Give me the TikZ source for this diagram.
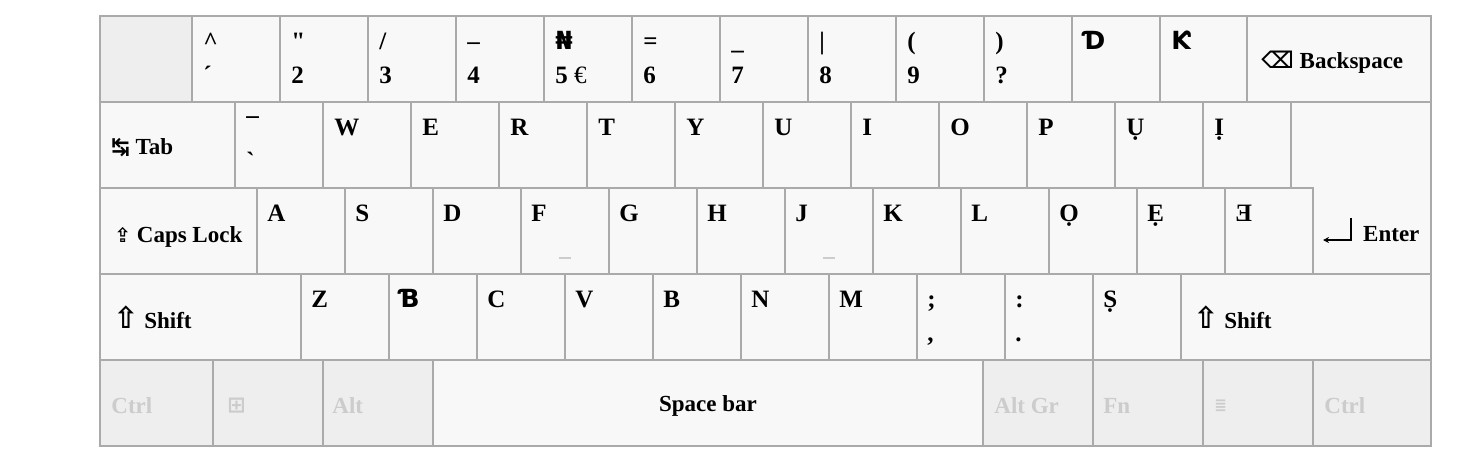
\documentclass[tikz,border=0pt]{standalone}
\usepackage{fontspec}
\setmainfont{Liberation Serif}[Ligatures=TeXOff]
\newfontfamily\symfont{DejaVu Sans}[Ligatures=TeXOff]
\usetikzlibrary{arrows.meta,positioning}

\definecolor{keyfill}{HTML}{F8F8F8}
\definecolor{offfill}{HTML}{EEEEEE}
\definecolor{keyline}{HTML}{AAAAAA}
\definecolor{offtext}{HTML}{CCCCCC}

% icon glyphs and letters missing in the serif
\newcommand{\icon}[2][22]{{\fontsize{#1}{#1}\selectfont\symfont\bfseries #2}}
\newcommand{\altch}[1]{{\symfont\bfseries #1}}

\begin{document}
\begin{tikzpicture}[x=1pt, y=-1pt,
    keybox/.style={draw=keyline, fill=keyfill, line width=1.6pt,
                   minimum height=86pt, inner sep=0pt},
    offbox/.style={keybox, fill=offfill},
    keytxt/.style={anchor=base west, inner sep=0pt,
                   font=\fontsize{25}{29}\selectfont\bfseries},
    modtxt/.style={anchor=west, inner sep=0pt, yshift=-3pt,
                   font=\fontsize{23}{27}\selectfont\bfseries},
    offtxt/.style={modtxt, text=offtext},
    bump/.style={draw=offtext, line width=1.5pt},
  ]
  \path[use as bounding box, fill=white] (0,0) rectangle (1472,464);

  % enter key (L shape over two rows)
  \draw[keyline, fill=keyfill, line width=1.6pt] (1291,102) -- (1431,102)
    -- (1431,274) -- (1313,274) -- (1313,188) -- (1291,188) -- cycle;

  % number row
  \node[offbox, minimum width=92pt] (blank) at (146,59) {};
  \foreach \up/\lo [count=\i from 0] in {%
      \textasciicircum/´, "/2, {/}/3, –/4, \altch{₦}/{5 {\mdseries €}},
      =/6, \_/7, |/8, {(}/9, {)}/?, \altch{Ɗ}/{}, \altch{Ƙ}/{}} {
    \node[keybox, minimum width=88pt] (num\i) at ({236+88*\i},59) {};
    \node[keytxt] (num\i-up) at ([shift={(12,34)}]num\i.north west) {\up};
    \node[keytxt] (num\i-lo) at ([shift={(12,68)}]num\i.north west) {\lo};
  }
  \node[keybox, minimum width=184pt] (bksp) at (1339,59) {};
  \node[modtxt] (bksp-l) at ([xshift=15pt]bksp.west) {\icon[23]{⌫} Backspace};

  % top letter row
  \node[keybox, minimum width=135pt] (tab) at (167.5,145) {};
  \node[modtxt] (tab-l) at ([xshift=12pt]tab.west) {\icon{↹} Tab};
  \node[keybox, minimum width=88pt] (acc) at (279,145) {};
  \node[keytxt] (acc-up) at ([shift={(12,34)}]acc.north west) {¯};
  \node[keytxt] (acc-lo) at ([shift={(12,68)}]acc.north west) {`};
  \foreach \k [count=\i from 1] in {W,E,R,T,Y,U,I,O,P,Ụ,Ị} {
    \node[keybox, minimum width=88pt] (top\i) at ({279+88*\i},145) {};
    \node[keytxt] (top\i-l) at ([shift={(12,34)}]top\i.north west) {\k};
  }

  % home row
  \node[keybox, minimum width=157pt] (caps) at (178.5,231) {};
  \node[modtxt, yshift=-3pt] (caps-l) at ([xshift=15pt]caps.west) {\icon[20]{⇪} Caps Lock};
  \foreach \k [count=\i from 0] in {A,S,D,F,G,H,J,K,L,Ọ,Ẹ,Ǝ} {
    \node[keybox, minimum width=88pt] (home\i) at ({301+88*\i},231) {};
    \node[keytxt] (home\i-l) at ([shift={(11,34)}]home\i.north west) {\k};
  }
  \draw[bump] ([shift={(-6,-17)}]home3.south) -- ++(12,0);
  \draw[bump] ([shift={(-6,-17)}]home6.south) -- ++(12,0);
  \node[modtxt] (enter) at (1363,231) {Enter};
  \draw[-{Stealth[length=6pt,width=6pt]}, line width=1.2pt]
    ([shift={(-12,-16)}]enter.west) -- ++(0,22) -- ++(-28,0);

  % bottom letter row
  \node[keybox, minimum width=201pt] (lshift) at (200.5,317) {};
  \node[modtxt, yshift=3pt] (lshift-l) at ([xshift=14pt]lshift.west) {\icon[30]{⇧} Shift};
  \foreach \up/\lo [count=\i from 0] in {%
      Z/{}, \altch{Ɓ}/{}, C/{}, V/{}, B/{}, N/{}, M/{}, {;}/{,}, :/., Ṣ/{}} {
    \node[keybox, minimum width=88pt] (bot\i) at ({345+88*\i},317) {};
    \node[keytxt] (bot\i-up) at ([shift={(11,34)}]bot\i.north west) {\up};
    \node[keytxt] (bot\i-lo) at ([shift={(11,68)}]bot\i.north west) {\lo};
  }
  \node[keybox, minimum width=250pt] (rshift) at (1306,317) {};
  \node[modtxt, yshift=3pt] (rshift-l) at ([xshift=13pt]rshift.west) {\icon[30]{⇧} Shift};

  % space row
  \node[offbox, minimum width=113pt] (lctrl) at (156.5,403) {};
  \node[offbox, minimum width=110pt] (win) at (268,403) {};
  \node[offbox, minimum width=110pt] (lalt) at (378,403) {};
  \node[keybox, minimum width=550pt, font=\fontsize{23}{27}\selectfont\bfseries]
    (space) at (708,403) {};
  \node[modtxt, anchor=center] (space-l) at (space.center) {Space bar};
  \node[offbox, minimum width=110pt] (altgr) at (1038,403) {};
  \node[offbox, minimum width=110pt] (fn) at (1148,403) {};
  \node[offbox, minimum width=110pt] (menu) at (1258,403) {};
  \node[offbox, minimum width=118pt] (rctrl) at (1372,403) {};
  \node[offtxt] (lctrl-l) at ([xshift=12pt]lctrl.west) {Ctrl};
  \node[offtxt] (win-l) at ([xshift=15pt]win.west) {\icon{⊞}};
  \node[offtxt] (lalt-l) at ([xshift=10pt]lalt.west) {Alt};
  \node[offtxt] (altgr-l) at ([xshift=12pt]altgr.west) {Alt Gr};
  \node[offtxt] (fn-l) at ([xshift=11pt]fn.west) {Fn};
  \node[offtxt] (menu-l) at ([xshift=12pt]menu.west) {\icon[15]{≣}};
  \node[offtxt] (rctrl-l) at ([xshift=12pt]rctrl.west) {Ctrl};
\end{tikzpicture}
\end{document}
